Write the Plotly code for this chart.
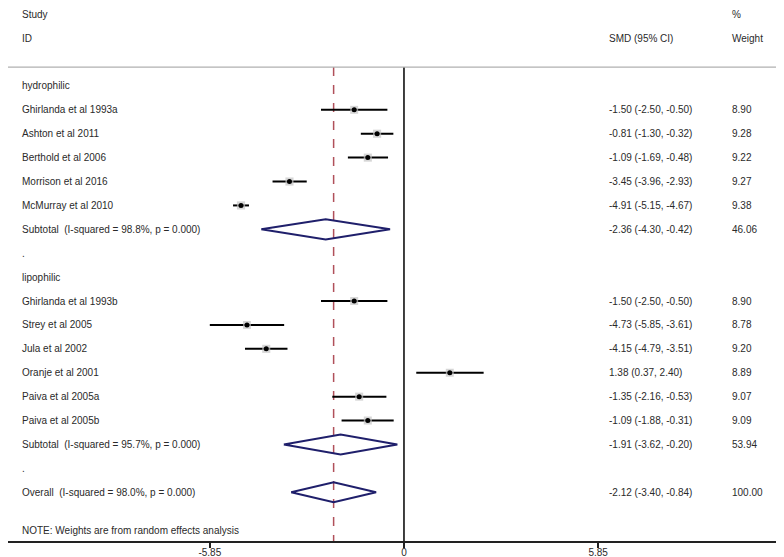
import plotly.graph_objects as go

# ---- data ----
study_names = ["Ghirlanda et al 1993a", "Ashton et al 2011", "Berthold et al 2006",
               "Morrison et al 2016", "McMurray et al 2010",
               "Ghirlanda et al 1993b", "Strey et al 2005", "Jula et al 2002",
               "Oranje et al 2001", "Paiva et al 2005a", "Paiva et al 2005b"]
study_est = [-1.50, -0.81, -1.09, -3.45, -4.91, -1.50, -4.73, -4.15, 1.38, -1.35, -1.09]
study_lo = [-2.50, -1.30, -1.69, -3.96, -5.15, -2.50, -5.85, -4.79, 0.37, -2.16, -1.88]
study_hi = [-0.50, -0.32, -0.48, -2.93, -4.67, -0.50, -3.61, -3.51, 2.40, -0.53, -0.31]
study_weight = [8.90, 9.28, 9.22, 9.27, 9.38, 8.90, 8.78, 9.20, 8.89, 9.07, 9.09]
study_rows = [1, 2, 3, 4, 5, 9, 10, 11, 12, 13, 14]

pooled_labels = ["Subtotal  (I-squared = 98.8%, p = 0.000)",
                 "Subtotal  (I-squared = 95.7%, p = 0.000)",
                 "Overall  (I-squared = 98.0%, p = 0.000)"]
pooled_est = [-2.36, -1.91, -2.12]
pooled_lo = [-4.30, -3.62, -3.40]
pooled_hi = [-0.42, -0.20, -0.84]
pooled_weight = [46.06, 53.94, 100.00]
pooled_rows = [6, 15, 17]

group_labels = ["hydrophilic", ".", "lipophilic", "."]
group_rows = [0, 7, 8, 16]

tick_vals = [-5.85, 0, 5.85]
tick_text = ["-5.85", "0", "5.85"]
note_text = "NOTE: Weights are from random effects analysis"

# ---- layout constants (pixels) ----
W, H = 784, 557
X_LABEL = 12 / W
X_SMD = 599 / W
X_WT = 722 / W
TEXT_COLOR = "#2a2a2a"
FONT = "Liberation Sans, Arial, sans-serif"
FS = 10

fig = go.Figure()

# CI lines
for e, lo, hi, r in zip(study_est, study_lo, study_hi, study_rows):
    fig.add_trace(go.Scatter(x=[lo, hi], y=[r, r], mode="lines",
                             line=dict(color="black", width=2), hoverinfo="skip",
                             showlegend=False))
# weight boxes
fig.add_trace(go.Scatter(x=study_est, y=study_rows, mode="markers",
                         marker=dict(symbol="square", color="#c4c4c4",
                                     size=[8 * (w / 9.0) ** 0.5 for w in study_weight],
                                     line=dict(width=0)),
                         hoverinfo="skip", showlegend=False))
# point estimates
fig.add_trace(go.Scatter(x=study_est, y=study_rows, mode="markers",
                         marker=dict(symbol="circle", color="black", size=5),
                         hoverinfo="skip", showlegend=False))

# diamonds
HALF = 0.42
for e, lo, hi, r in zip(pooled_est, pooled_lo, pooled_hi, pooled_rows):
    fig.add_trace(go.Scatter(x=[lo, e, hi, e, lo], y=[r, r - HALF, r, r + HALF, r],
                             mode="lines", line=dict(color="#1f1f6b", width=2),
                             hoverinfo="skip", showlegend=False))

TOP_ROW = -0.79
BOTTOM_ROW = 19.04

# reference lines
fig.add_shape(type="line", xref="x", yref="y", x0=0, x1=0, y0=TOP_ROW, y1=BOTTOM_ROW,
              line=dict(color="black", width=1.5), layer="below")
fig.add_shape(type="line", xref="x", yref="y", x0=pooled_est[-1], x1=pooled_est[-1],
              y0=TOP_ROW, y1=BOTTOM_ROW, line=dict(color="#b0505a", width=1.5, dash="dash"),
              layer="below")
fig.add_shape(type="line", xref="paper", yref="y", x0=0, x1=1, y0=TOP_ROW, y1=TOP_ROW,
              line=dict(color="#b0b0b0", width=1.2))

def txt(x, y, s):
    fig.add_annotation(x=x, y=y, xref="paper", yref="y", text=s, showarrow=False,
                       xanchor="left", yanchor="middle",
                       font=dict(family=FONT, size=FS, color=TEXT_COLOR))

# headers
txt(X_LABEL, -3, "Study")
txt(X_LABEL, -2, "ID")
txt(X_SMD, -2, "SMD (95% CI)")
txt(X_WT, -3, "%")
txt(X_WT, -2, "Weight")

for s, r in zip(group_labels, group_rows):
    txt(X_LABEL, r, s)

for n, e, lo, hi, w, r in zip(study_names, study_est, study_lo, study_hi, study_weight, study_rows):
    txt(X_LABEL, r, n)
    txt(X_SMD, r, f"{e:.2f} ({lo:.2f}, {hi:.2f})")
    txt(X_WT, r, f"{w:.2f}")

for n, e, lo, hi, w, r in zip(pooled_labels, pooled_est, pooled_lo, pooled_hi, pooled_weight, pooled_rows):
    txt(X_LABEL, r, n)
    txt(X_SMD, r, f"{e:.2f} ({lo:.2f}, {hi:.2f})")
    txt(X_WT, r, f"{w:.2f}")

txt(X_LABEL, 18.6, note_text)

fig.update_layout(
    width=W, height=H,
    margin=dict(l=0, r=0, t=0, b=24),
    plot_bgcolor="white", paper_bgcolor="white",
    showlegend=False,
    font=dict(family=FONT, size=FS, color=TEXT_COLOR),
)
fig.update_xaxes(range=[-11.93, 11.69], tickvals=tick_vals, ticktext=tick_text,
                 ticks="outside", ticklen=5, tickcolor="#222", tickwidth=1.5,
                 ticklabelstandoff=-4,
                 showline=True, linecolor="#222", linewidth=1.5,
                 showgrid=False, zeroline=False, fixedrange=True,
                 tickfont=dict(family=FONT, size=FS, color=TEXT_COLOR))
fig.update_yaxes(range=[BOTTOM_ROW, -3.26], showticklabels=False, showgrid=False,
                 zeroline=False, showline=False, ticks="", fixedrange=True)

fig.write_html("out.html")
